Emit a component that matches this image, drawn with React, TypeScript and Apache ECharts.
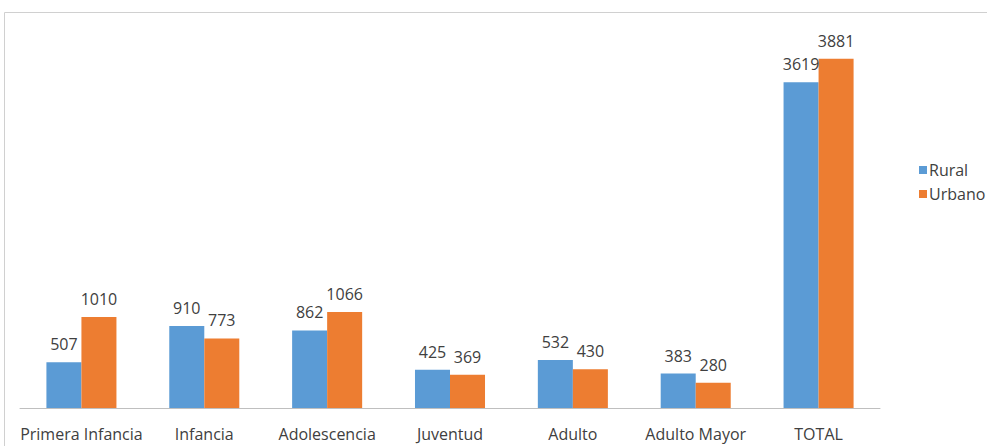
import React, { useEffect, useRef } from "react";
import * as echarts from "echarts";

const categories = ["Primera Infancia", "Infancia", "Adolescencia", "Juventud", "Adulto", "Adulto Mayor", "TOTAL"];
const rural = [507, 910, 862, 425, 532, 383, 3619];
const urbano = [1010, 773, 1066, 369, 430, 280, 3881];
const seriesNames = ["Rural", "Urbano"];

const FONT = "'Open Sans', 'Noto Sans', sans-serif";

export default function App() {
  const ref = useRef<HTMLDivElement>(null);
  useEffect(() => {
    if (!ref.current) return;
    const chart = echarts.init(ref.current, undefined, { renderer: "svg" });
    const label = {
      show: true,
      position: "top" as const,
      distance: 10,
      color: "#404040",
      fontFamily: FONT,
      fontSize: 16,
    };
    chart.setOption({
      animation: false,
      backgroundColor: "#fff",
      textStyle: { fontFamily: FONT },
      graphic: [
        {
          type: "rect",
          shape: { x: 4.5, y: 12.5, width: 1100, height: 600 },
          style: { fill: "none", stroke: "#d0d0d0", lineWidth: 1 },
          silent: true,
          z: -10,
        },
      ],
      legend: {
        orient: "vertical",
        left: 914,
        top: 157,
        itemWidth: 8,
        itemHeight: 8,
        itemGap: 8,
        icon: "rect",
        textStyle: { color: "#404040", fontSize: 16, fontFamily: FONT, padding: [0, 0, 0, -3] },
        data: seriesNames,
      },
      grid: { left: 20, right: 107, top: 48, bottom: 38, containLabel: false },
      xAxis: {
        type: "category",
        data: categories,
        axisLine: { lineStyle: { color: "#bfbfbf" } },
        axisTick: { length: 5, lineStyle: { color: "#bfbfbf" } },
        axisLabel: { color: "#404040", fontSize: 16, fontFamily: FONT, margin: 18, interval: 0 },
      },
      yAxis: {
        type: "value",
        min: 0,
        max: 4000,
        show: false,
        splitLine: { show: false },
      },
      series: [
        {
          name: "Rural",
          type: "bar",
          data: rural,
          barWidth: "28.5%",
          barGap: "0%",
          itemStyle: { color: "#5B9BD5" },
          label,
        },
        {
          name: "Urbano",
          type: "bar",
          data: urbano,
          barWidth: "28.5%",
          barGap: "0%",
          itemStyle: { color: "#ED7D31" },
          label,
        },
      ],
    });
    return () => chart.dispose();
  }, []);
  return <div ref={ref} style={{ width: 987, height: 446, position: "absolute", left: 0, top: 0 }} />;
}
